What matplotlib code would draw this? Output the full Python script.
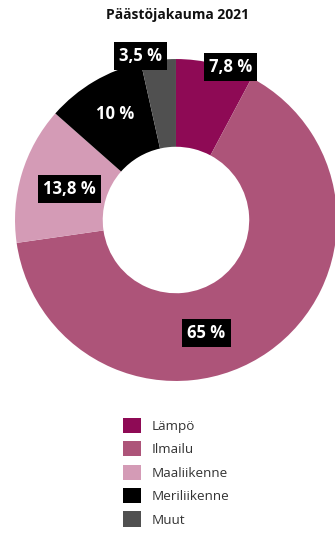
import matplotlib.pyplot as plt
from matplotlib.patches import Patch

plt.rcParams['font.family'] = ['Open Sans', 'DejaVu Sans']

categories = ["Lämpö", "Ilmailu", "Maaliikenne", "Meriliikenne", "Muut"]
shares = [7.8, 65.0, 13.8, 10.0, 3.5]
share_labels = ["7,8 %", "65 %", "13,8 %", "10 %", "3,5 %"]
colors = ["#8e0a55", "#ad5479", "#d49bb6", "#000000", "#505050"]

# label box positions (axes data units, donut radius = 1)
label_pos = [(0.34, 0.95), (0.19, -0.70), (-0.66, 0.19), (-0.38, 0.66), (-0.22, 1.02)]

fig = plt.figure(figsize=(3.35, 5.34), dpi=100)
ax = fig.add_axes([0.0448, 0.2865, 0.961, 0.603])

wedges, _ = ax.pie(shares, colors=colors, startangle=90, counterclock=False,
                   radius=1.0, wedgeprops=dict(width=0.545, linewidth=0))
ax.set_xlim(-1, 1)
ax.set_ylim(-1, 1)
ax.set_aspect("equal")
ax.axis("off")

for txt, (x, y) in zip(share_labels, label_pos):
    ax.text(x, y, txt, ha="center", va="center", color="white",
            fontsize=12, fontweight="bold",
            bbox=dict(boxstyle="square,pad=0.3", fc="black", ec="none"))

fig.text(0.531, 0.971, "Päästöjakauma 2021", ha="center", va="center",
         fontsize=10, fontweight="bold", color="#111111")

handles = [Patch(facecolor=c, edgecolor="none") for c in colors]
fig.legend(handles, categories, loc="upper left", bbox_to_anchor=(0.367, 0.218),
           frameon=False, fontsize=9.7, handlelength=1.35, handleheight=1.35,
           labelspacing=0.62, handletextpad=0.8, borderpad=0, borderaxespad=0,
           labelcolor="#333333")

fig.savefig("out.png", dpi=100)
